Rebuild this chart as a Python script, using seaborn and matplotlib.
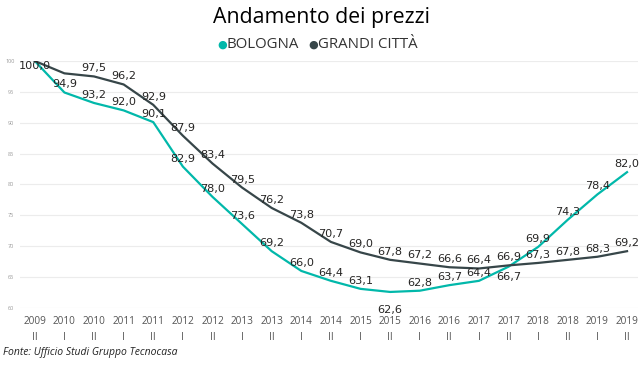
import pandas as pd
import numpy as np
import matplotlib.pyplot as plt
import seaborn as sns

# periodi (anno + semestre)
anni = ["2009", "2010", "2010", "2011", "2011", "2012", "2012", "2013", "2013", "2014", "2014",
        "2015", "2015", "2016", "2016", "2017", "2017", "2018", "2018", "2019", "2019"]
semestri = ["II", "I", "II", "I", "II", "I", "II", "I", "II", "I", "II",
            "I", "II", "I", "II", "I", "II", "I", "II", "I", "II"]

bologna = [100.0, 94.9, 93.2, 92.0, 90.1, 82.9, 78.0, 73.6, 69.2, 66.0, 64.4,
           63.1, 62.6, 62.8, 63.7, 64.4, 66.7, 69.9, 74.3, 78.4, 82.0]
grandi_citta = [100.0, 98.0, 97.5, 96.2, 92.9, 87.9, 83.4, 79.5, 76.2, 73.8, 70.7,
                69.0, 67.8, 67.2, 66.6, 66.4, 66.9, 67.3, 67.8, 68.3, 69.2]

y_ticks = [60, 65, 70, 75, 80, 85, 90, 95, 100]

colori = {"BOLOGNA": "#01B8AA", "GRANDI CITTÀ": "#374649"}

x = np.arange(len(anni))
df = pd.DataFrame({
    "x": np.concatenate([x, x]),
    "valore": bologna + grandi_citta,
    "serie": ["BOLOGNA"] * len(x) + ["GRANDI CITTÀ"] * len(x),
})

plt.rcParams["font.family"] = ["Open Sans", "DejaVu Sans"]

fig = plt.figure(figsize=(6.43, 3.67), dpi=100)
ax = fig.add_axes([20 / 643, 1 - 308 / 367, 618 / 643, 247 / 367])

sns.lineplot(data=df, x="x", y="valore", hue="serie", palette=colori,
             linewidth=1.6, ax=ax, legend=False)

ax.set_xlim(-0.5, 20.37)
ax.set_ylim(60, 100)
ax.set_yticks(y_ticks)
ax.set_yticklabels([str(v) for v in y_ticks], fontsize=4, color="#999999")
ax.set_xticks(x)
ax.set_xticklabels([f"{a}\n{s}" for a, s in zip(anni, semestri)],
                   fontsize=7.2, color="#555555", linespacing=1.6)
ax.tick_params(axis="both", length=0)
ax.tick_params(axis="x", pad=6)
ax.tick_params(axis="y", pad=4)
ax.grid(axis="y", color="#ececec", linewidth=0.8)
ax.set_axisbelow(True)
for s in ax.spines.values():
    s.set_visible(False)
ax.set_xlabel("")
ax.set_ylabel("")

# etichette dati: offset verticale in punti (negativo = sotto la linea)
lab_font = ["DejaVu Sans"]
off_bologna = {12: -13, 16: -7.5}
for i, v in enumerate(bologna):
    if i == 0:
        continue
    off = off_bologna.get(i, 5.8)
    ax.annotate(f"{v:.1f}".replace(".", ","), (x[i], v), xytext=(0, off),
                textcoords="offset points", ha="center", va="center",
                fontsize=8.1, color="#252423", family=lab_font)
for i, v in enumerate(grandi_citta):
    if i == 1:
        continue
    off = -3.5 if i == 0 else 5.8
    ax.annotate(f"{v:.1f}".replace(".", ","), (x[i], v), xytext=(0, off),
                textcoords="offset points", ha="center", va="center",
                fontsize=8.1, color="#252423", family=lab_font)

fig.text(0.5, 1 - 18 / 367, "Andamento dei prezzi", ha="center", va="center",
         fontsize=15.3, color="#000000")

# legenda
fig.text(222 / 643, 1 - 45 / 367, "●", ha="center", va="center", fontsize=8, color=colori["BOLOGNA"])
fig.text(227 / 643, 1 - 45 / 367, "BOLOGNA", ha="left", va="center", fontsize=10.8, color="#333333")
fig.text(313 / 643, 1 - 45 / 367, "●", ha="center", va="center", fontsize=8, color=colori["GRANDI CITTÀ"])
fig.text(318 / 643, 1 - 45 / 367, "GRANDI CITTÀ", ha="left", va="center", fontsize=10.8, color="#333333")

fig.text(3 / 643, 1 - 352 / 367, "Fonte: Ufficio Studi Gruppo Tecnocasa", ha="left", va="center",
         fontsize=7.5, style="italic", color="#222222")

fig.savefig("out.png", dpi=100)
